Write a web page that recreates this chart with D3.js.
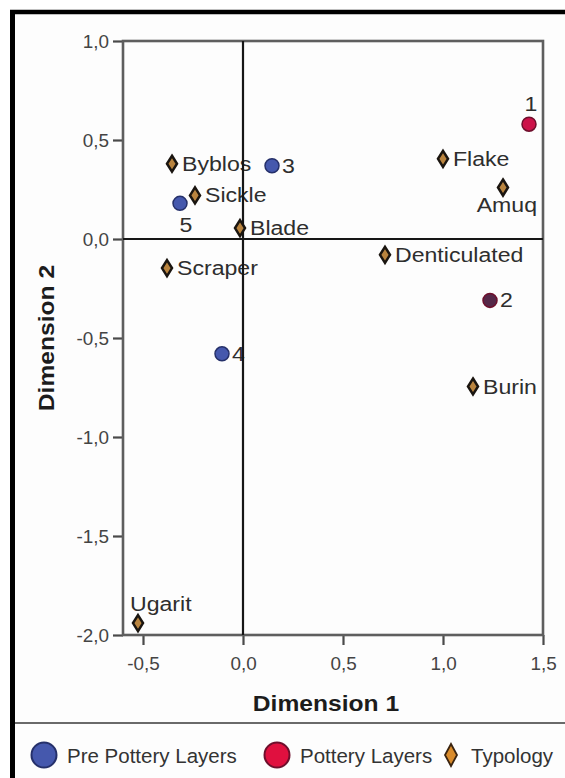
<!DOCTYPE html>
<html>
<head>
<meta charset="utf-8">
<script src="https://cdn.jsdelivr.net/npm/d3@7"></script>
<style>
  html, body { margin: 0; padding: 0; background: #fff; }
  svg { display: block; font-family: "Liberation Sans", Arial, sans-serif; }
</style>
</head>
<body>
<svg id="chart" width="565" height="778"></svg>
<script>
// Correspondence analysis: excavation layers and lithic typology
const layerNames  = ["1", "2", "3", "4", "5"];
const layerGroups = ["Pottery", "Pottery", "Pre Pottery", "Pre Pottery", "Pre Pottery"];
const layerDim1   = [1.43, 1.235, 0.145, -0.105, -0.315];
const layerDim2   = [0.58, -0.31, 0.37, -0.58, 0.18];

const typologyNames = ["Byblos", "Sickle", "Blade", "Scraper", "Flake", "Amuq", "Denticulated", "Burin", "Ugarit"];
const typologyDim1  = [-0.355, -0.24, -0.015, -0.38, 1.0, 1.3, 0.71, 1.15, -0.525];
const typologyDim2  = [0.38, 0.22, 0.055, -0.147, 0.405, 0.26, -0.08, -0.745, -1.94];

const xTicks = [-0.5, 0, 0.5, 1, 1.5];
const yTicks = [1, 0.5, 0, -0.5, -1, -1.5, -2];
const legendNames = ["Pre Pottery Layers", "Pottery Layers", "Typology"];

// where each point label sits relative to its marker
const labelSide = {
  "1": "above", "2": "right", "3": "right", "4": "right", "5": "below",
  "Amuq": "belowLeft", "Ugarit": "aboveLeft"
};

const groupFill   = { "Pre Pottery": "#4558ad", "Pottery": "#cc1249" };
const groupStroke = { "Pre Pottery": "#25306a", "Pottery": "#6e0f2c" };
const pointFill   = { "2": "#552848" };

const svg = d3.select("#chart");
const W = 565, H = 778;

const x = d3.scaleLinear().domain([-0.6, 1.5]).range([123, 543]);
const y = d3.scaleLinear().domain([-2, 1]).range([635, 41]);
const fmt = v => d3.format(".1f")(v).replace(".", ",").replace("\u2212", "-");

// page background and frame
svg.append("rect").attr("width", W).attr("height", H).attr("fill", "#fff");
svg.append("rect").attr("x", 12).attr("y", 12).attr("width", W - 12).attr("height", H - 12).attr("fill", "#fdfdfd");
svg.append("line").attr("x1", 10).attr("x2", W).attr("y1", 12).attr("y2", 12)
  .attr("stroke", "#000").attr("stroke-width", 4.5);
svg.append("line").attr("x1", 12.5).attr("x2", 12.5).attr("y1", 10).attr("y2", H)
  .attr("stroke", "#000").attr("stroke-width", 5);
svg.append("line").attr("x1", 15).attr("x2", W).attr("y1", 723).attr("y2", 723)
  .attr("stroke", "#6a6a6a").attr("stroke-width", 2.2);

function label(g, px, py, str, opts) {
  const o = Object.assign({ size: 21, sx: 1.1, anchor: "start", fill: "#2e2e2e", weight: "normal", rotate: 0 }, opts);
  return g.append("text")
    .attr("transform", `translate(${px},${py}) rotate(${o.rotate}) scale(${o.sx},1)`)
    .attr("text-anchor", o.anchor)
    .attr("font-size", o.size)
    .attr("font-weight", o.weight)
    .attr("fill", o.fill)
    .text(str);
}

// axes
const yAxis = d3.axisLeft(y).tickValues(yTicks).tickFormat(fmt).tickSize(10).tickPadding(3);
const xAxis = d3.axisBottom(x).tickValues(xTicks).tickFormat(fmt).tickSize(10).tickPadding(3);

const gy = svg.append("g").attr("transform", `translate(${x.range()[0]},0)`).call(yAxis);
const gx = svg.append("g").attr("transform", `translate(0,${y.range()[0]})`).call(xAxis);
[gx, gy].forEach(g => {
  g.select(".domain").remove();
  g.selectAll(".tick line").attr("stroke", "#4a4a4a").attr("stroke-width", 2.2);
  g.selectAll(".tick text").remove();
});
gy.selectAll(".tick").each(function (d) {
  label(d3.select(this), -14, 6, fmt(d), { size: 18, sx: 1.05, anchor: "end", fill: "#444" });
});
gx.selectAll(".tick").each(function (d) {
  label(d3.select(this), 0, 35, fmt(d), { size: 18, sx: 1.05, anchor: "middle", fill: "#444" });
});

// plot frame
svg.append("rect")
  .attr("x", x.range()[0]).attr("y", y.range()[1])
  .attr("width", x.range()[1] - x.range()[0]).attr("height", y.range()[0] - y.range()[1])
  .attr("fill", "none").attr("stroke", "#5e5e5e").attr("stroke-width", 2.6);

// axis titles
label(svg, 326, 711, "Dimension 1",
  { size: 22, sx: 1.12, anchor: "middle", fill: "#1c1c1c", weight: "bold" });
label(svg, 54, (y.range()[0] + y.range()[1]) / 2, "Dimension 2",
  { size: 22, sx: 1.12, anchor: "middle", fill: "#1c1c1c", weight: "bold", rotate: -90 });

// point labels
const labels = svg.append("g");
function placeLabel(name, cx, cy) {
  const side = labelSide[name] || "right";
  if (side === "right") label(labels, cx + 10, cy + 7, name);
  else if (side === "above") label(labels, cx + 2, cy - 13, name, { anchor: "middle" });
  else if (side === "below") label(labels, cx + 6, cy + 29, name, { anchor: "middle" });
  else if (side === "belowLeft") label(labels, cx + 34, cy + 24, name, { anchor: "end" });
  else if (side === "aboveLeft") label(labels, cx - 8, cy - 12, name);
}
layerNames.forEach((n, i) => placeLabel(n, x(layerDim1[i]), y(layerDim2[i])));
typologyNames.forEach((n, i) => placeLabel(n, x(typologyDim1[i]), y(typologyDim2[i])));

// zero reference lines
svg.append("line").attr("x1", x(0)).attr("x2", x(0)).attr("y1", y.range()[1]).attr("y2", y.range()[0])
  .attr("stroke", "#161616").attr("stroke-width", 2.2);
svg.append("line").attr("x1", x.range()[0]).attr("x2", x.range()[1]).attr("y1", y(0)).attr("y2", y(0))
  .attr("stroke", "#161616").attr("stroke-width", 2.2);

// markers
const diamond = (w, h) => `M0,${-h / 2}L${w / 2},0L0,${h / 2}L${-w / 2},0Z`;
svg.append("g").selectAll("path").data(typologyNames).join("path")
  .attr("transform", (d, i) => `translate(${x(typologyDim1[i])},${y(typologyDim2[i])})`)
  .attr("d", diamond(10, 16))
  .attr("fill", "#b9843f").attr("stroke", "#1a1510").attr("stroke-width", 2.5);

svg.append("g").selectAll("circle").data(layerNames).join("circle")
  .attr("cx", (d, i) => x(layerDim1[i]))
  .attr("cy", (d, i) => y(layerDim2[i]))
  .attr("r", 7)
  .attr("fill", (d, i) => pointFill[d] || groupFill[layerGroups[i]])
  .attr("stroke", (d, i) => groupStroke[layerGroups[i]])
  .attr("stroke-width", 1.5);

// legend
const legend = svg.append("g").attr("transform", "translate(0,755)");
const legendX = [44, 277, 451];
legend.append("circle").attr("cx", legendX[0]).attr("cy", 0).attr("r", 12.5)
  .attr("fill", groupFill["Pre Pottery"]).attr("stroke", groupStroke["Pre Pottery"]).attr("stroke-width", 2);
legend.append("circle").attr("cx", legendX[1]).attr("cy", 0).attr("r", 12.5)
  .attr("fill", "#e0103f").attr("stroke", groupStroke["Pottery"]).attr("stroke-width", 2);
legend.append("path").attr("transform", `translate(${legendX[2]},0)`)
  .attr("d", diamond(12, 22)).attr("fill", "#d98b2b").attr("stroke", "#3a2410").attr("stroke-width", 1.8);
legendNames.forEach((n, i) => {
  label(legend, legendX[i] + (i === 2 ? 20 : 23), 7.5, n, { size: 20.5, sx: 1.0, fill: "#333" });
});
</script>
</body>
</html>
